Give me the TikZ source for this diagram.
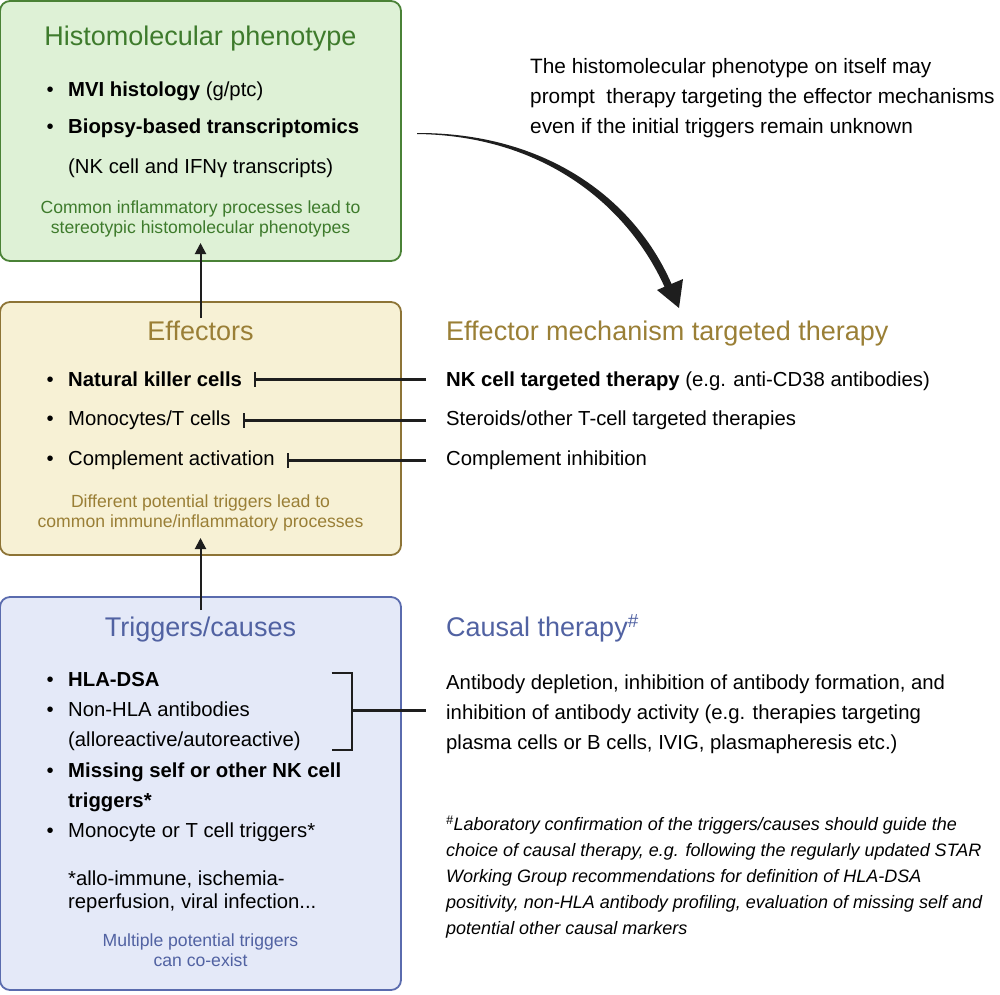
\documentclass[tikz,border=0pt]{standalone}
\usepackage{fontspec}
\setmainfont{Liberation Sans}
\usetikzlibrary{arrows.meta, positioning, calc}
\definecolor{pgreen}{HTML}{3E7B2C}
\definecolor{pgreenbg}{HTML}{DEF1D6}
\definecolor{pgreenln}{HTML}{4A8236}
\definecolor{eamber}{HTML}{9A7F36}
\definecolor{eamberbg}{HTML}{F7F1D5}
\definecolor{eamberln}{HTML}{8D7436}
\definecolor{tblue}{HTML}{5162A2}
\definecolor{tbluebg}{HTML}{E4E9F8}
\definecolor{tblueln}{HTML}{5A6BAE}
\definecolor{ink}{HTML}{1E1E1E}
\newcommand{\titlefont}{\fontsize{27}{32}\selectfont}
\newcommand{\bodyfont}{\fontsize{20.3}{30}\selectfont}
\newcommand{\capfont}{\fontsize{17.6}{20}\selectfont}
\newcommand{\notefont}{\fontsize{18}{26}\selectfont\itshape}
\newcommand{\bul}{\makebox[21.5pt][l]{\textbullet}}

\begin{document}
\begin{tikzpicture}[x=1pt, y=-1pt,
  box/.style={rectangle, rounded corners=10pt, draw, line width=1.8pt,
              inner sep=0pt, outer sep=0pt, minimum width=401pt},
  phebox/.style={box, fill=pgreenbg, draw=pgreenln, minimum height=260pt},
  effbox/.style={box, fill=eamberbg, draw=eamberln, minimum height=253pt},
  trigbox/.style={box, fill=tbluebg, draw=tblueln, minimum height=393pt},
  ttl/.style={inner sep=0pt, anchor=base, font=\titlefont},
  ttlr/.style={inner sep=0pt, anchor=base west, font=\titlefont},
  item/.style={inner sep=0pt, anchor=base west, font=\bodyfont},
  para/.style={inner sep=0pt, anchor=base west, align=left, font=\bodyfont},
  capt/.style={inner sep=0pt, anchor=base, align=center, font=\capfont},
  arr/.style={-{Triangle[length=11pt, width=11pt]}, line width=2pt, draw=ink},
  inh/.style={-{Bar[width=15pt]}, line width=2.2pt, draw=ink},
  line/.style={line width=2.2pt, draw=ink},
]
  \useasboundingbox (0,0) rectangle (1000,994);

  % the three boxes
  \node[phebox]  (phe)  at (200.5,131)   {};
  \node[effbox]  (eff)  at (200.5,428.5) {};
  \node[trigbox] (trig) at (200.5,793.5) {};

  % histomolecular phenotype
  \node[ttl, text=pgreen] (pheT) at (200.5,45) {Histomolecular phenotype};
  \node[item] (mvi)  at (46.5,96.7)  {\bul\textbf{MVI histology} (g/ptc)};
  \node[item] (bio)  at (46.5,133.3) {\bul\textbf{Biopsy-based transcriptomics}};
  \node[item] (bio2) at (68,173)     {(NK cell and IFNγ transcripts)};
  \node[capt, text=pgreen] (pheC) at (200.5,233)
    {Common inflammatory processes lead to\\stereotypic histomolecular phenotypes};

  % effectors
  \node[ttl, text=eamber] (effT) at (200.5,340) {Effectors};
  \node[item] (nk)   at (46.5,386.7) {\bul\textbf{Natural killer cells}};
  \node[item] (mono) at (46.5,425.7) {\bul Monocytes/T cells};
  \node[item] (comp) at (46.5,465.7) {\bul Complement activation};
  \node[capt, text=eamber] (effC) at (200.5,527.5)
    {Different potential triggers lead to\\common immune/inflammatory processes};

  % triggers
  \node[ttl, text=tblue] (trigT) at (200.5,636.7) {Triggers/causes};
  \node[item] (hla)     at (46.5,686.7) {\bul\textbf{HLA-DSA}};
  \node[item] (nonhla)  at (46.5,716.7) {\bul Non-HLA antibodies};
  \node[item] (nonhla2) at (68,746.7)   {(alloreactive/autoreactive)};
  \node[item] (miss)    at (46.5,777.5) {\bul\textbf{Missing self or other NK cell}};
  \node[item] (miss2)   at (68,807)     {\textbf{triggers*}};
  \node[item] (monot)   at (46.5,837.5) {\bul Monocyte or T cell triggers*};
  \node[item] (star)    at (68,885)     {*allo-immune, ischemia-};
  \node[item] (star2)   at (68,908)     {reperfusion, viral infection...};
  \node[capt, text=tblue] (trigC) at (200.5,966.7)
    {Multiple potential triggers\\can co-exist};

  % right column
  \node[para, font=\fontsize{20.8}{30}\selectfont] (prompt) at (530,133)
    {The histomolecular phenotype on itself may\\
     prompt\ \ therapy targeting the effector mechanisms\\
     even if the initial triggers remain unknown};
  \node[ttlr, text=eamber] (effTh) at (446,340) {Effector mechanism targeted therapy};
  \node[item] (nkTh)   at (446,386.7) {\textbf{NK cell targeted therapy} (e.g. anti-CD38 antibodies)};
  \node[item] (monoTh) at (446,425.7) {Steroids/other T-cell targeted therapies};
  \node[item] (compTh) at (446,465.7) {Complement inhibition};
  \node[ttlr, text=tblue] (causT) at (446,636.7) {Causal therapy\textsuperscript{\#}};
  \node[para] (abd) at (446,749.7)
    {Antibody depletion, inhibition of antibody formation, and\\
     inhibition of antibody activity (e.g. therapies targeting\\
     plasma cells or B cells, IVIG, plasmapheresis etc.)};
  \node[para, font=\notefont] (fnote) at (446,934.5)
    {\textsuperscript{\#}Laboratory confirmation of the triggers/causes should guide the\\
     choice of causal therapy, e.g. following the regularly updated STAR\\
     Working Group recommendations for definition of HLA-DSA\\
     positivity, non-HLA antibody profiling, evaluation of missing self and\\
     potential other causal markers};

  % upward arrows between boxes
  \draw[arr] ([yshift=-16pt]eff.north) -- ([yshift=18pt]phe.south);
  \draw[arr] ([yshift=-13pt]trig.north) -- ([yshift=17pt]eff.south);

  % inhibition lines
  \draw[inh] ([xshift=-20pt]nkTh.west |- nk.east) -- ([xshift=12pt]nk.east);
  \draw[inh] ([xshift=-20pt]monoTh.west |- mono.east) -- ([xshift=12pt]mono.east);
  \draw[inh] ([xshift=-20pt]compTh.west |- comp.east) -- ([xshift=12pt]comp.east);

  % bracket to causal therapy
  \draw[line] (331.5,673) -| (352,750) -- (331.5,750);
  \coordinate (brk) at (352,710.5);
  \draw[line] (brk) -- ([xshift=-20pt]abd.west |- brk);

  % tapered curved arrow
  \fill[ink] (417,133) .. controls (545,132.5) and (634,198) .. (671.5,283.9)
    -- (683,279) -- (679,308) -- (657,290) -- (664.5,286.8)
    .. controls (626,202) and (540,135.5) .. (417,134) -- cycle;
\end{tikzpicture}
\end{document}
